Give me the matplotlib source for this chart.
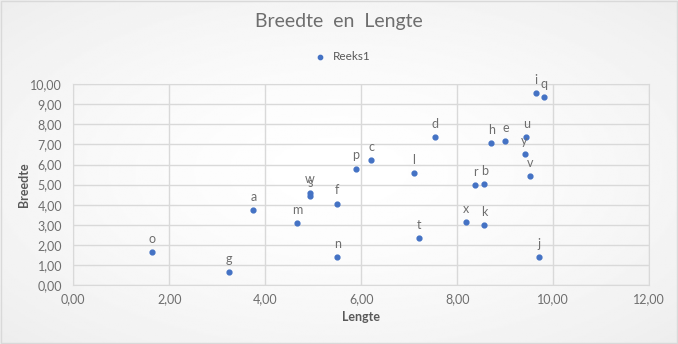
import numpy as np
import matplotlib.pyplot as plt
from matplotlib.ticker import FuncFormatter, MultipleLocator

# data
labels = ['a', 'b', 'c', 'd', 'e', 'f', 'g', 'h', 'i', 'j', 'k', 'l', 'm',
          'n', 'o', 'p', 'q', 'r', 's', 't', 'u', 'v', 'w', 'x', 'y']
lengte = [3.75, 8.56, 6.21, 7.54, 9.00, 5.50, 3.25, 8.71, 9.63, 9.70, 8.56, 7.10, 4.67,
          5.50, 1.65, 5.88, 9.81, 8.37, 4.93, 7.21, 9.44, 9.52, 4.93, 8.19, 9.40]
breedte = [3.72, 5.02, 6.21, 7.36, 7.16, 4.04, 0.63, 7.06, 9.55, 1.38, 2.97, 5.57, 3.07,
           1.38, 1.63, 5.79, 9.35, 4.97, 4.42, 2.33, 7.36, 5.42, 4.60, 3.12, 6.51]

plt.rcParams['font.family'] = ['Lato', 'DejaVu Sans']
grey = '#595959'
light = '#6e6e6e'

fig = plt.figure(figsize=(6.78, 3.44), dpi=100)

# subtle radial background like the Excel chart area
bg = fig.add_axes([0, 0, 1, 1], zorder=-10)
yy, xx = np.mgrid[-1:1:200j, -1:1:400j]
r = np.sqrt(xx**2 + yy**2) / np.sqrt(2)
bg.imshow(1 - 0.07 * r**1.5, cmap='gray', vmin=0, vmax=1, aspect='auto',
          extent=[0, 1, 0, 1])
bg.set_xlim(0, 1)
bg.set_ylim(0, 1)
bg.axis('off')
fig.patches.append(plt.Rectangle((0.001, 0.002), 0.997, 0.995, transform=fig.transFigure,
                                 fill=False, edgecolor='#d9d9d9', linewidth=1))

ax = fig.add_axes([0.1081, 0.1715, 0.8496, 0.5835])
ax.patch.set_alpha(0)
ax.scatter(lengte, breedte, s=12, color='#4472C4', zorder=3, label='Reeks1')
for lab, x, y in zip(labels, lengte, breedte):
    ax.annotate(lab, (x, y), xytext=(0, 9.8), textcoords='offset points',
                ha='center', va='center', fontsize=9, color=light)

ax.set_xlim(0, 12)
ax.set_ylim(0, 10)
ax.xaxis.set_major_locator(MultipleLocator(2))
ax.yaxis.set_major_locator(MultipleLocator(1))
fmt = FuncFormatter(lambda v, p: ('%.2f' % v).replace('.', ','))
ax.xaxis.set_major_formatter(fmt)
ax.yaxis.set_major_formatter(fmt)
ax.grid(True, color='#d9d9d9', linewidth=1)
ax.set_axisbelow(True)
for s in ax.spines.values():
    s.set_color('#d9d9d9')
ax.tick_params(length=0, labelsize=9, labelcolor=light)
ax.tick_params(axis='x', pad=6)
ax.tick_params(axis='y', pad=8)

ax.set_xlabel('Lengte', fontsize=9, fontweight='bold', color=grey, labelpad=4)
ax.set_ylabel('Breedte', fontsize=9, fontweight='bold', color=grey, labelpad=0)

fig.text(0.5, 1 - 22 / 344, 'Breedte  en  Lengte', ha='center', va='center',
         fontsize=14, color=light)
fig.legend(loc='center', bbox_to_anchor=(0.5, 1 - 57 / 344), frameon=False,
           fontsize=8.5, labelcolor=grey, handletextpad=0.1, markerscale=0.9)

plt.savefig('out.png', dpi=100)
